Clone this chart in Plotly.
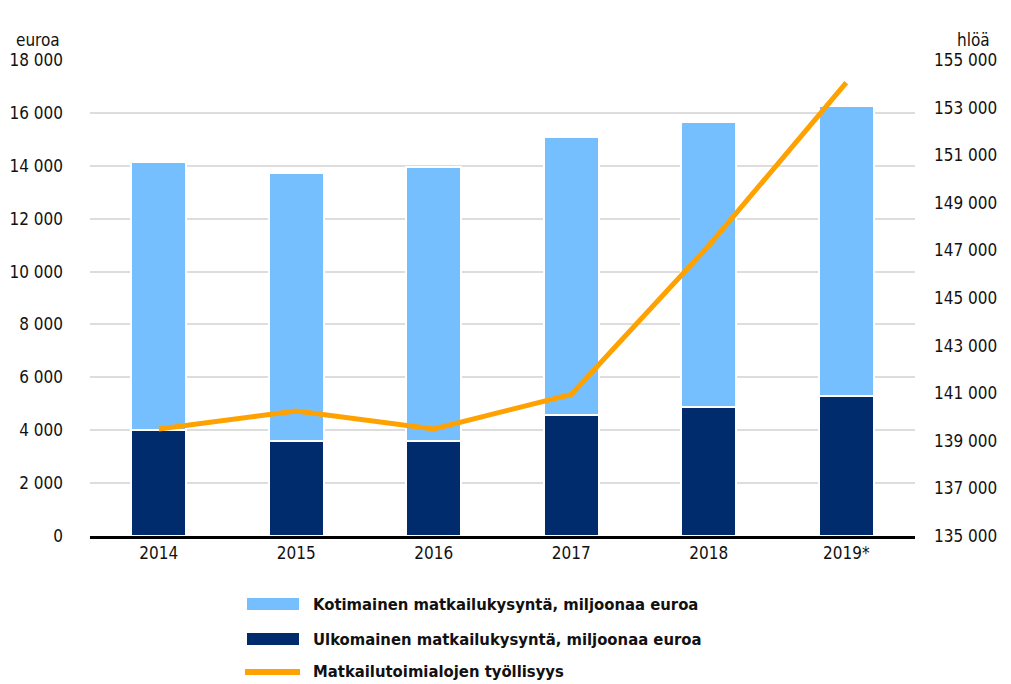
import plotly.graph_objects as go
from plotly.subplots import make_subplots

years = ["2014", "2015", "2016", "2017", "2018", "2019*"]
kotimainen = [10130, 10140, 10360, 10510, 10780, 10970]
ulkomainen = [4010, 3590, 3590, 4580, 4880, 5290]
tyollisyys = [139500, 140250, 139500, 140950, 147200, 154050]

left_ticks = [0, 2000, 4000, 6000, 8000, 10000, 12000, 14000, 16000, 18000]
right_ticks = [135000, 137000, 139000, 141000, 143000, 145000, 147000, 149000, 151000, 153000, 155000]

legend_names = ["Kotimainen matkailukysyntä, miljoonaa euroa",
                "Ulkomainen matkailukysyntä, miljoonaa euroa",
                "Matkailutoimialojen työllisyys"]


def fmt(v):
    return f"{v:,}".replace(",", " ")


FONT = "DejaVu Sans Condensed, Liberation Sans Narrow, Arial Narrow, sans-serif"
NAVY, LIGHT, ORANGE = "#002b6d", "#75bfff", "#ffa200"

# the page puts the figure 8px in from the corner; plot area in page pixels: x 90..915, y 60..536
OFF = 8
W, H = 1011 - OFF, 684 - OFF
L, R, T, B = 90, 915, 60, 536


def px(x):
    return (x - L) / (R - L)


def py(y):
    return (B - y) / (B - T)


fig = make_subplots(specs=[[{"secondary_y": True}]])
fig.add_trace(go.Bar(x=years, y=ulkomainen, name=legend_names[1],
                     marker=dict(color=NAVY, line=dict(color="white", width=2))), secondary_y=False)
fig.add_trace(go.Bar(x=years, y=kotimainen, name=legend_names[0],
                     marker=dict(color=LIGHT, line=dict(color="white", width=2))), secondary_y=False)
fig.add_trace(go.Scatter(x=years, y=tyollisyys, mode="lines", name=legend_names[2],
                         line=dict(color=ORANGE, width=5)), secondary_y=True)

fig.update_layout(
    barmode="stack", bargap=0.6,
    width=W, height=H,
    margin=dict(l=L - OFF, r=W - (R - OFF), t=T - OFF, b=H - (B - OFF)),
    plot_bgcolor="white", paper_bgcolor="white",
    font=dict(family=FONT, size=17, color="#111"),
    showlegend=False,
)
fig.update_xaxes(domain=[0, 1], showline=True, linecolor="black", linewidth=3, ticks="",
                 tickfont=dict(size=17), automargin=False)
fig.update_yaxes(range=[0, 18000], tickvals=left_ticks, ticktext=[fmt(v) for v in left_ticks],
                 showgrid=True, gridcolor="#dddddd", gridwidth=1.5, zeroline=False, automargin=False,
                 ticks="", ticklabelstandoff=26, secondary_y=False)
fig.update_yaxes(range=[135000, 155000], tickvals=right_ticks, ticktext=[fmt(v) for v in right_ticks],
                 showgrid=False, zeroline=False, automargin=False,
                 ticks="", ticklabelstandoff=18, secondary_y=True)

fig.add_annotation(x=0, y=py(40), xref="paper", yref="paper", xanchor="right", yanchor="middle",
                   text="euroa", showarrow=False, xshift=-28, font=dict(size=17))
fig.add_annotation(x=1, y=py(40), xref="paper", yref="paper", xanchor="left", yanchor="middle",
                   text="hlöä", showarrow=False, xshift=40, font=dict(size=17))

# legend drawn by hand so the keys are wide blocks as in the original
key_y = [604, 639, 672]
fig.add_shape(type="rect", xref="paper", yref="paper", x0=px(247), x1=px(299),
              y0=py(598), y1=py(610), fillcolor=LIGHT, line_width=0)
fig.add_shape(type="rect", xref="paper", yref="paper", x0=px(247), x1=px(299),
              y0=py(633), y1=py(645), fillcolor=NAVY, line_width=0)
fig.add_shape(type="line", xref="paper", yref="paper", x0=px(245), x1=px(300),
              y0=py(672), y1=py(672), line=dict(color=ORANGE, width=6))
for name, yy in zip(legend_names, key_y):
    fig.add_annotation(x=px(311), y=py(yy), xref="paper", yref="paper", xanchor="left",
                       yanchor="middle", text=f"<b>{name}</b>", showarrow=False,
                       font=dict(size=16.5, color="#111"))

fig.write_html("out.html")
